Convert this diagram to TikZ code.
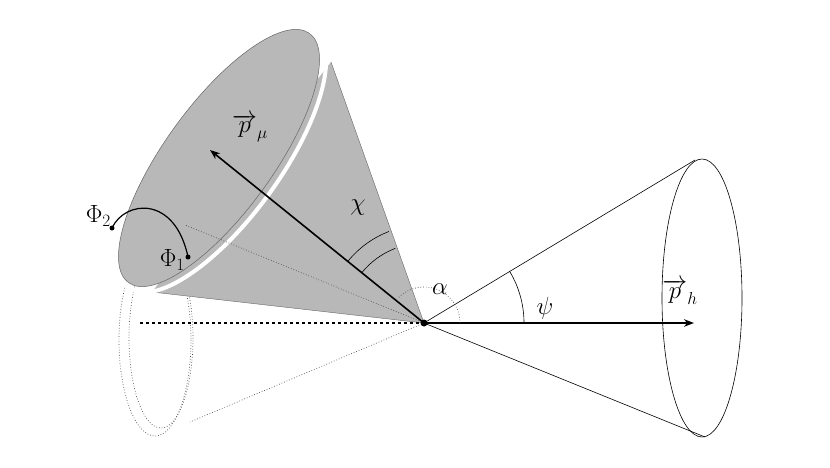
\documentclass[tikz,border=0pt]{standalone}
\usetikzlibrary{arrows.meta}
\begin{document}
\begin{tikzpicture}[x=1pt,y=-1pt,
  thinline/.style={draw=black,line width=0.6pt},
  ghost/.style={draw=black!70,dotted,line width=0.7pt},
  vec/.style={line width=1.6pt,-{Stealth[length=10pt]}},
  lbl/.style={font=\fontsize{26}{28}\selectfont}]
\useasboundingbox (0,0) rectangle (830,467);
% vertex
\coordinate (O) at (424,323);
% right cone
\draw[thinline] (O) -- (695,160);
\draw[thinline] (O) -- (705,437);
\draw[thinline] (702,298) ellipse [x radius=40,y radius=139];
% ghost cone
\draw[ghost] (155,340) ellipse [x radius=36,y radius=96];
\draw[ghost] (161,338) ellipse [x radius=32,y radius=90];
\draw[ghost] (O) -- (190,422);
% gray cone
\fill[black!28] (O) -- (331,62) -- (152,292) -- cycle;
\draw[black!60,line width=0.4pt] (O) -- (331,62) (O) -- (152,292);
\draw[white,line width=4pt] (222,160) ellipse [x radius=158,y radius=58,rotate=54];
\filldraw[fill=black!28,draw=black!60,line width=0.5pt] (219,158) ellipse [x radius=154,y radius=54,rotate=54];
\draw[ghost] (O) -- (185,225);
% dashed axis
\draw[line width=1.6pt,dashed] (140,323) -- (O);
% vectors
\draw[vec] (O) -- (694,323);
\node[lbl] (ph) at (680,292) {$\overrightarrow{p}_h$};
\draw[vec] (O) -- (210,150);
\node[lbl] (pmu) at (250,128) {$\overrightarrow{p}_\mu$};
% angles
\draw[thinline] (O) ++(-141:98) arc[start angle=-141,end angle=-111,radius=98];
\draw[thinline] (O) ++(-141:80) arc[start angle=-141,end angle=-111,radius=80];
\node[lbl] (chi) at (358,208) {$\chi$};
\draw[ghost] (O) ++(0:36) arc[start angle=0,end angle=-135,radius=36];
\node[lbl] (alpha) at (440,289) {$\alpha$};
\draw[thinline] (O) ++(0:100) arc[start angle=0,end angle=-31,radius=100];
\node[lbl] (psi) at (545,308) {$\psi$};
% phi curve
\coordinate (F2) at (112,228);
\coordinate (F1) at (188,257);
\draw[line width=1.2pt] (F2) .. controls (125,200) and (175,195) .. (F1);
\fill (F2) circle (2.5pt) (F1) circle (2.5pt) (O) circle (3.5pt);
\node[lbl,anchor=east,inner sep=1pt] (phi2) at ([yshift=12pt]F2) {$\Phi_2$};
\node[lbl,anchor=east,inner sep=1pt] (phi1) at ([xshift=-2pt,yshift=-3pt]F1) {$\Phi_1$};
\end{tikzpicture}
\end{document}
